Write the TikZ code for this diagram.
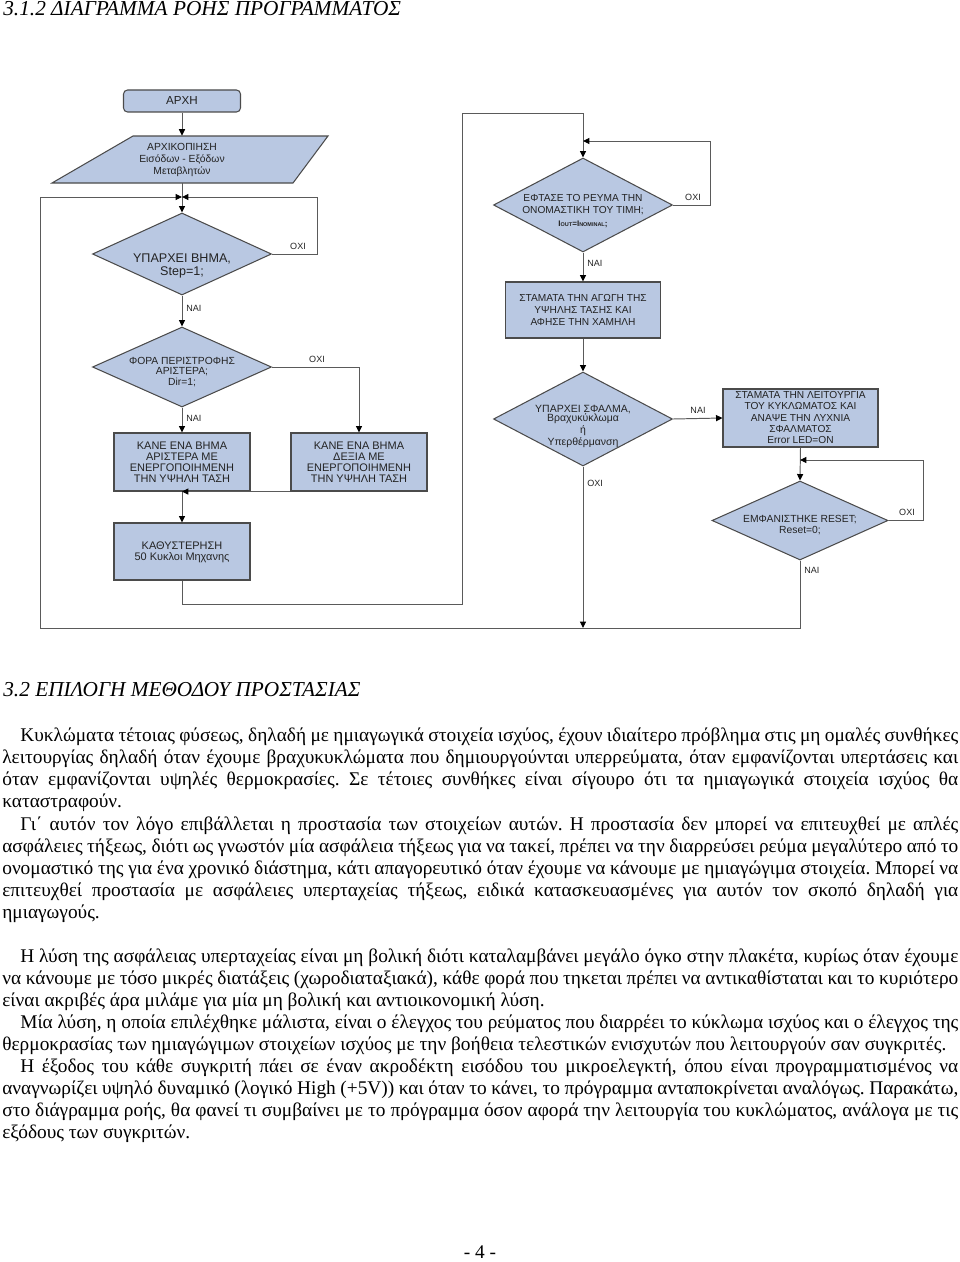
\documentclass[tikz,border=0pt]{standalone}
\usepackage{fontspec}
\setmainfont{Liberation Serif}
\newfontfamily\chartfont{Liberation Sans}
\usetikzlibrary{arrows.meta,shapes.geometric}
\definecolor{boxfill}{RGB}{185,200,226}
\definecolor{edgec}{RGB}{75,75,75}
\definecolor{linec}{RGB}{90,90,90}
\definecolor{txtc}{RGB}{35,35,35}
\newdimen\pxu \pxu=0.62pt
\newcommand\chf[2]{\chartfont\fontsize{#1}{#2}\selectfont}
\newcommand\bodyjust[4]{\node[body] (#1) at (#2,#3) {\makebox[\dimexpr 958\pxu-#2\pxu\relax][s]{#4}};}
\newcommand\bodyline[4]{\node[body] (#1) at (#2,#3) {#4};}
\frenchspacing
\begin{document}
\begin{tikzpicture}[x=0.62pt,y=-0.62pt,
  sz/.style 2 args={minimum width={#1*0.62pt}, minimum height={#2*0.62pt}},
  shp/.style={draw=edgec, fill=boxfill, line width=0.65pt, inner sep=0pt},
  proc/.style={shp, rectangle},
  dec/.style={shp, diamond},
  txt/.style={align=center, inner sep=0pt, text=txtc},
  lbl/.style={inner sep=0pt, text=txtc, font=\chf{5.6}{6}},
  con/.style={draw=linec, line width=0.6pt},
  arr/.style={con, -{Triangle[length=4pt,width=3.8pt,color=black]}},
  body/.style={anchor=base west, inner sep=0pt, font=\frenchspacing\fontsize{12}{14}\selectfont},
  head/.style={body, font=\itshape\fontsize{13.2}{15}\selectfont}
]
\useasboundingbox (0,0) rectangle (960,1262);

% ---------- shapes ----------
\node[proc, rounded corners=2.5pt, sz={117}{22}] (start) at (182,101) {};
\draw[shp] (133,136) -- (328,136) -- (293,183) -- (52,183) -- cycle;
\node[draw=none, sz={150}{47}, inner sep=0pt] (init) at (182,159.5) {};
\node[dec, sz={179}{82}] (step) at (182,254) {};
\node[dec, sz={179}{80}] (dir) at (182,367) {};
\node[proc, sz={136}{58}] (leftbox) at (182,462) {};
\node[proc, sz={136}{58}] (rightbox) at (359,462) {};
\node[proc, sz={136}{57}] (delay) at (182,551.5) {};

\node[dec, sz={179}{94}] (reached) at (583,205) {};
\node[proc, sz={155}{56}] (stophv) at (583,310) {};
\node[dec, sz={179}{94}] (fault) at (583,419) {};
\node[proc, sz={155}{58}] (stopall) at (800.5,418) {};
\node[dec, sz={176}{79}] (reset) at (800,520.5) {};

% ---------- texts in shapes ----------
\node[txt, font=\chf{7.2}{8}] (startT) at (182,101) {ΑΡΧΗ};
\node[txt, font=\chf{6.4}{7.4}] (initT) at (182,160) {ΑΡΧΙΚΟΠΙΗΣΗ\\Εισόδων - Εξόδων\\Μεταβλητών};
\node[txt, font=\chf{7.8}{8.2}] (stepT) at (182,266) {ΥΠΑΡΧΕΙ ΒΗΜΑ,\\Step=1;};
\node[txt, font=\chf{6.4}{6.3}] (dirT) at (182,372) {ΦΟΡΑ ΠΕΡΙΣΤΡΟΦΗΣ\\ΑΡΙΣΤΕΡΑ;\\Dir=1;};
\node[txt, font=\chf{6.8}{6.9}] (leftT) at (182,462) {ΚΑΝΕ ΕΝΑ ΒΗΜΑ\\ΑΡΙΣΤΕΡΑ ΜΕ\\ΕΝΕΡΓΟΠΟΙΗΜΕΝΗ\\ΤΗΝ ΥΨΗΛΗ ΤΑΣΗ};
\node[txt, font=\chf{6.8}{6.9}] (rightT) at (359,462) {ΚΑΝΕ ΕΝΑ ΒΗΜΑ\\ΔΕΞΙΑ ΜΕ\\ΕΝΕΡΓΟΠΟΙΗΜΕΝΗ\\ΤΗΝ ΥΨΗΛΗ ΤΑΣΗ};
\node[txt, font=\chf{6.8}{6.9}] (delayT) at (182,552) {ΚΑΘΥΣΤΕΡΗΣΗ\\50 Κυκλοι Μηχανης};

\node[txt, font=\chf{6.3}{7.5}] (reachedT) at (583,211) {ΕΦΤΑΣΕ ΤΟ ΡΕΥΜΑ ΤΗΝ\\ΟΝΟΜΑΣΤΙΚΗ ΤΟΥ ΤΙΜΗ;\\{\bfseries\fontsize{5}{6}\selectfont I{\fontsize{3.4}{4}\selectfont OUT}=I{\fontsize{3.4}{4}\selectfont NOMINAL};}};
\node[txt, font=\chf{6.3}{7.2}] (stophvT) at (583,310) {ΣΤΑΜΑΤΑ ΤΗΝ ΑΓΩΓΗ ΤΗΣ\\ΥΨΗΛΗΣ ΤΑΣΗΣ ΚΑΙ\\ΑΦΗΣΕ ΤΗΝ ΧΑΜΗΛΗ};
\node[txt, font=\chf{6.5}{6}] (faultT) at (583,426) {ΥΠΑΡΧΕΙ ΣΦΑΛΜΑ,\\Βραχυκύκλωμα\\ή\\Υπερθέρμανση};
\node[txt, font=\chf{6.3}{6.9}] (stopallT) at (800.5,417.5) {ΣΤΑΜΑΤΑ ΤΗΝ ΛΕΙΤΟΥΡΓΙΑ\\ΤΟΥ ΚΥΚΛΩΜΑΤΟΣ ΚΑΙ\\ΑΝΑΨΕ ΤΗΝ ΛΥΧΝΙΑ\\ΣΦΑΛΜΑΤΟΣ\\Error LED=ON};
\node[txt, font=\chf{6.4}{6.7}] (resetT) at (800,525) {ΕΜΦΑΝΙΣΤΗΚΕ RESET;\\Reset=0;};

% ---------- merge points ----------
\coordinate (m1) at (182,197);
\coordinate (m2) at (583,141);
\coordinate (m3) at (800,460);
\coordinate (bl) at (40,628);
\coordinate (c1) at (462,604);
\coordinate (c2) at (462,113);

% ---------- connectors ----------
\draw[arr] (start.south) -- (init.north);
\draw[arr] (init.south) -- (step.north);
\draw[arr] (step.east) -- ++(45,0) |- (m1);
\draw[arr] (step.south) -- (dir.north);
\draw[arr] (dir.east) -| (rightbox.north);
\draw[arr] (dir.south) -- (leftbox.north);
\draw[arr] (rightbox.south west) -- (leftbox.south);
\draw[arr] (leftbox.south) -- (delay.north);
\draw[arr] (delay.south) |- (c1) |- (reached.north |- c2) -- (reached.north);
\draw[arr] (reached.east) -- ++(37,0) |- (m2);
\draw[arr] (reached.south) -- (stophv.north);
\draw[arr] (stophv.south) -- (fault.north);
\draw[arr] (fault.east) -- (stopall.west);
\draw[arr] (fault.south) -- (fault.south |- bl);
\draw[arr] (stopall.south) -- (reset.north);
\draw[arr] (reset.east) -- ++(35,0) |- (m3);
\draw[arr] (reset.south) |- (bl) |- (m1);

% ---------- labels ----------
\node[lbl] (l1) at (298,246) {ΟΧΙ};
\node[lbl, anchor=west] (l2) at (186,308) {ΝΑΙ};
\node[lbl] (l3) at (317,359) {ΟΧΙ};
\node[lbl, anchor=west] (l4) at (186,418) {ΝΑΙ};
\node[lbl] (l5) at (693,197) {ΟΧΙ};
\node[lbl, anchor=west] (l6) at (587,263) {ΝΑΙ};
\node[lbl] (l7) at (698,410) {ΝΑΙ};
\node[lbl, anchor=west] (l8) at (587,483) {ΟΧΙ};
\node[lbl] (l9) at (907,512) {ΟΧΙ};
\node[lbl, anchor=west] (l10) at (804,570) {ΝΑΙ};

% ---------- page text ----------
\node[head] (h1) at (3,16) {3.1.2 ΔΙΑΓΡΑΜΜΑ ΡΟΗΣ ΠΡΟΓΡΑΜΜΑΤΟΣ};
\node[head] (h2) at (3,696) {3.2 ΕΠΙΛΟΓΗ ΜΕΘΟΔΟΥ ΠΡΟΣΤΑΣΙΑΣ};

\bodyjust{a1}{20}{741}{Κυκλώματα τέτοιας φύσεως, δηλαδή με ημιαγωγικά στοιχεία ισχύος, έχουν ιδιαίτερο πρόβλημα στις μη ομαλές συνθήκες}
\bodyjust{a2}{2}{763}{λειτουργίας δηλαδή όταν έχουμε βραχυκυκλώματα που δημιουργούνται υπερρεύματα, όταν εμφανίζονται υπερτάσεις και}
\bodyjust{a3}{2}{785}{όταν εμφανίζονται υψηλές θερμοκρασίες. Σε τέτοιες συνθήκες είναι σίγουρο ότι τα ημιαγωγικά στοιχεία ισχύος θα}
\bodyline{a4}{2}{807}{καταστραφούν.}

\bodyjust{b1}{20}{830}{Γι΄ αυτόν τον λόγο επιβάλλεται η προστασία των στοιχείων αυτών. Η προστασία δεν μπορεί να επιτευχθεί με απλές}
\bodyjust{b2}{2}{852}{ασφάλειες τήξεως, διότι ως γνωστόν μία ασφάλεια τήξεως για να τακεί, πρέπει να την διαρρεύσει ρεύμα μεγαλύτερο από το}
\bodyjust{b3}{2}{874}{ονομαστικό της για ένα χρονικό διάστημα, κάτι απαγορευτικό όταν έχουμε να κάνουμε με ημιαγώγιμα στοιχεία. Μπορεί να}
\bodyjust{b4}{2}{896}{επιτευχθεί προστασία με ασφάλειες υπερταχείας τήξεως, ειδικά κατασκευασμένες για αυτόν τον σκοπό δηλαδή για}
\bodyline{b5}{2}{918}{ημιαγωγούς.}

\bodyjust{c1t}{20}{962}{Η λύση της ασφάλειας υπερταχείας είναι μη βολική διότι καταλαμβάνει μεγάλο όγκο στην πλακέτα, κυρίως όταν έχουμε}
\bodyjust{c2t}{2}{984}{να κάνουμε με τόσο μικρές διατάξεις (χωροδιαταξιακά), κάθε φορά που τηκεται πρέπει να αντικαθίσταται και το κυριότερο}
\bodyline{c3t}{2}{1006}{είναι ακριβές άρα μιλάμε για μία μη βολική και αντιοικονομική λύση.}

\bodyjust{d1}{20}{1028}{Μία λύση, η οποία επιλέχθηκε μάλιστα, είναι ο έλεγχος του ρεύματος που διαρρέει το κύκλωμα ισχύος και ο έλεγχος της}
\bodyline{d2}{2}{1050}{θερμοκρασίας των ημιαγώγιμων στοιχείων ισχύος με την βοήθεια τελεστικών ενισχυτών που λειτουργούν σαν συγκριτές.}

\bodyjust{e1}{20}{1072}{Η έξοδος του κάθε συγκριτή πάει σε έναν ακροδέκτη εισόδου του μικροελεγκτή, όπου είναι προγραμματισμένος να}
\bodyjust{e2}{2}{1094}{αναγνωρίζει υψηλό δυναμικό (λογικό High (+5V)) και όταν το κάνει, το πρόγραμμα ανταποκρίνεται αναλόγως. Παρακάτω,}
\bodyjust{e3}{2}{1116}{στο διάγραμμα ροής, θα φανεί τι συμβαίνει με το πρόγραμμα όσον αφορά την λειτουργία του κυκλώματος, ανάλογα με τις}
\bodyline{e4}{2}{1138}{εξόδους των συγκριτών.}

\node[body, anchor=base] (pg) at (480,1258) {- 4 -};
\end{tikzpicture}
\end{document}
